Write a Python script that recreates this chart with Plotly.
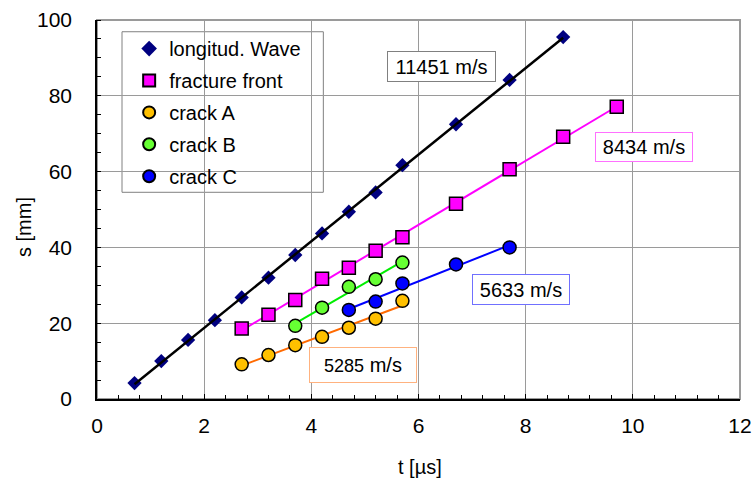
import numpy as np
import plotly.graph_objects as go

# ---- data ----
t_long = [0.7, 1.2, 1.7, 2.2, 2.7, 3.2, 3.7, 4.2, 4.7, 5.2, 5.7, 6.7, 7.7, 8.7]
s_long = [4.2, 10.0, 15.6, 20.8, 26.8, 32.0, 38.0, 43.7, 49.4, 54.5, 61.7, 72.5, 84.2, 95.5]

t_front = [2.7, 3.2, 3.7, 4.2, 4.7, 5.2, 5.7, 6.7, 7.7, 8.7, 9.7]
s_front = [18.6, 22.2, 26.1, 31.7, 34.6, 39.1, 42.7, 51.5, 60.6, 69.2, 77.1]

t_a = [2.7, 3.2, 3.7, 4.2, 4.7, 5.2, 5.7]
s_a = [9.15, 11.6, 14.2, 16.4, 18.8, 21.2, 25.9]

t_b = [3.7, 4.2, 4.7, 5.2, 5.7]
s_b = [19.3, 24.1, 29.6, 31.6, 36.0]

t_c = [4.7, 5.2, 5.7, 6.7, 7.7]
s_c = [23.5, 25.7, 30.5, 35.5, 40.0]

names = ["longitud. Wave", "fracture front", "crack A", "crack B", "crack C"]
speed_labels = ["11451 m/s", "8434 m/s", "5633 m/s", "5285", "m/s"]
x_ticks = [0, 2, 4, 6, 8, 10, 12]
y_ticks = [0, 20, 40, 60, 80, 100]

FONT = "Liberation Sans, Arial, sans-serif"


def fit_line(t, s):
    k, d = np.polyfit(t, s, 1)
    xs = [min(t), max(t)]
    return xs, [k * x + d for x in xs]


fig = go.Figure()

# longitudinal wave: markers, then black fit line on top
fig.add_trace(go.Scatter(x=t_long, y=s_long, mode="markers", name=names[0],
                         legendgroup="g0",
                         marker=dict(symbol="diamond", size=11, color="#000080",
                                     line=dict(width=0))))
lx, ly = fit_line(t_long, s_long)
fig.add_trace(go.Scatter(x=lx, y=ly, mode="lines", showlegend=False,
                         legendgroup="g0",
                         line=dict(color="black", width=2.5), hoverinfo="skip"))

series = [
    (t_front, s_front, names[1], "square", "#FF00FF", "#FF00FF", 13),
    (t_a, s_a, names[2], "circle", "#FFC000", "#FF6A00", 13),
    (t_b, s_b, names[3], "circle", "#66FF33", "#00EE00", 13),
    (t_c, s_c, names[4], "circle", "#0000FF", "#0000FF", 13),
]
for i, (t, s, nm, sym, fill, lcol, sz) in enumerate(series):
    fx, fy = fit_line(t, s)
    fig.add_trace(go.Scatter(x=fx, y=fy, mode="lines", showlegend=False,
                             legendgroup="g%d" % (i + 1),
                             line=dict(color=lcol, width=2), hoverinfo="skip"))
for i, (t, s, nm, sym, fill, lcol, sz) in enumerate(series):
    fig.add_trace(go.Scatter(x=t, y=s, mode="markers", name=nm,
                             legendgroup="g%d" % (i + 1),
                             marker=dict(symbol=sym, size=sz, color=fill,
                                         line=dict(color="black", width=1.5))))

axis_common = dict(
    showline=True, linecolor="black", linewidth=1.5,
    showgrid=True, gridcolor="#9a9a9a", gridwidth=1,
    zeroline=False,
    tickfont=dict(family=FONT, size=21, color="black"),
    automargin=False,
)

fig.update_xaxes(range=[0, 12], tickvals=x_ticks, ticktext=[str(v) for v in x_ticks],
                 ticks="inside", ticklen=5, tickcolor="black",
                 ticklabelstandoff=7,
                 minor=dict(dtick=0.4, tick0=0, ticks="inside", ticklen=4,
                            tickcolor="black", showgrid=False),
                 **axis_common)
# y labels pushed away from the axis with transparent outside ticks
fig.update_yaxes(range=[0, 100], tickvals=y_ticks, ticktext=[str(v) for v in y_ticks],
                 ticks="outside", ticklen=19, tickcolor="rgba(0,0,0,0)",
                 minor=dict(dtick=5, tick0=0, ticks="inside", ticklen=4,
                            tickcolor="black", showgrid=False),
                 **axis_common)

shapes = [
    # plot frame (gray top/right)
    dict(type="rect", xref="paper", yref="paper", x0=0, x1=1, y0=0, y1=1,
         line=dict(color="#9a9a9a", width=2), layer="below"),
    # legend box
    dict(type="rect", xref="paper", yref="paper", x0=0.0389, x1=0.352,
         y0=0.5454, y1=0.969, fillcolor="white",
         line=dict(color="#808080", width=1), layer="between"),
]

ann_font = dict(family=FONT, size=20, color="black")
annotations = [
    dict(x=6.42, y=87.7, xref="x", yref="y", text=speed_labels[0], showarrow=False,
         font=ann_font, bgcolor="white", bordercolor="#808080", borderwidth=1,
         borderpad=0, width=107, height=29),
    dict(x=10.20, y=66.6, xref="x", yref="y", text=speed_labels[1], showarrow=False,
         font=ann_font, bgcolor="white", bordercolor="#FF70FF", borderwidth=1,
         borderpad=0, width=96, height=28),
    dict(x=7.91, y=28.9, xref="x", yref="y", text=speed_labels[2], showarrow=False,
         font=ann_font, bgcolor="white", bordercolor="#7070FF", borderwidth=1,
         borderpad=0, width=96, height=29),
    dict(x=4.96, y=8.9, xref="x", yref="y",
         text="<span style='font-size:18px'>%s</span> %s" % (speed_labels[3], speed_labels[4]),
         showarrow=False, font=ann_font, bgcolor="white", bordercolor="#FFB27F",
         borderwidth=1, borderpad=0, width=106, height=34),
    # axis titles
    dict(x=(24 - 97) / 643, y=(399 - 227) / 379, xref="paper", yref="paper",
         text="s [mm]", textangle=-90, showarrow=False, font=ann_font,
         xanchor="center", yanchor="middle"),
    dict(x=(420 - 97) / 643, y=(399 - 467) / 379, xref="paper", yref="paper",
         text="t [µs]", showarrow=False, font=ann_font,
         xanchor="center", yanchor="middle"),
]

fig.update_layout(
    width=754, height=481,
    margin=dict(l=97, r=14, t=20, b=82, autoexpand=False),
    paper_bgcolor="white", plot_bgcolor="white",
    font=dict(family=FONT, size=20, color="black"),
    showlegend=True,
    legend=dict(x=0.050, y=0.976, xanchor="left", yanchor="top",
                bgcolor="rgba(0,0,0,0)", borderwidth=0,
                font=dict(family=FONT, size=20, color="black"),
                itemsizing="constant", tracegroupgap=2.9,
                traceorder="grouped"),
    shapes=shapes,
    annotations=annotations,
)

fig.write_html("out.html")
